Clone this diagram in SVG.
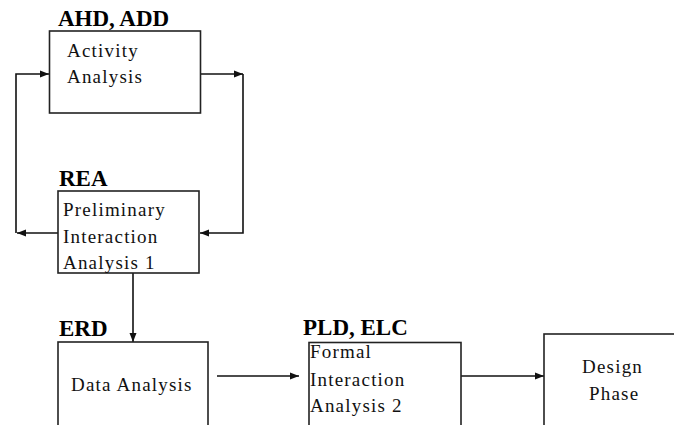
<svg xmlns="http://www.w3.org/2000/svg" width="674" height="425" viewBox="0 0 674 425">
<defs>
<style>
.box{fill:#fff;stroke:#222;stroke-width:1.6}
.title{font-family:'Liberation Serif','Times New Roman',serif;font-weight:bold;font-size:23px;fill:#000}
.lbl{font-family:'Liberation Serif','Times New Roman',serif;font-size:19px;letter-spacing:1.2px;fill:#111}
.con{fill:none;stroke:#111;stroke-width:1.6}
</style>
<marker id="arr" markerUnits="userSpaceOnUse" markerWidth="10" markerHeight="8" refX="9" refY="4" orient="auto">
<path d="M0,0.5 L9,4 L0,7.5 z" fill="#111"/>
</marker>
</defs>
<rect width="674" height="425" fill="#fff"/>
<g id="connectors">
<path class="con" d="M58,233 H17" marker-end="url(#arr)"/>
<path class="con" d="M16,233 V74 H49" marker-end="url(#arr)"/>
<path class="con" d="M201,74 H243" marker-end="url(#arr)"/>
<path class="con" d="M243,74 V233 H200" marker-end="url(#arr)"/>
<path class="con" d="M133,273 V342" marker-end="url(#arr)"/>
<path class="con" d="M217,376 H299" marker-end="url(#arr)"/>
<path class="con" d="M461,376 H544" marker-end="url(#arr)"/>
</g>
<g id="activity">
<text class="title" x="58" y="26">AHD, ADD</text>
<rect class="box" x="49.5" y="31" width="151" height="82"/>
<text class="lbl" x="67" y="57">Activity</text>
<text class="lbl" x="67" y="83">Analysis</text>
</g>
<g id="rea">
<text class="title" x="59" y="186">REA</text>
<rect class="box" x="58" y="191" width="141" height="82"/>
<text class="lbl" x="63" y="216">Preliminary</text>
<text class="lbl" x="63" y="243">Interaction</text>
<text class="lbl" x="63" y="269">Analysis 1</text>
</g>
<g id="erd">
<text class="title" x="59" y="336">ERD</text>
<rect class="box" x="58" y="342" width="150" height="110"/>
<text class="lbl" x="71" y="391">Data Analysis</text>
</g>
<g id="pld">
<text class="title" x="303" y="335">PLD, ELC</text>
<rect class="box" x="309" y="342.5" width="152" height="110"/>
<text class="lbl" x="310" y="358">Formal</text>
<text class="lbl" x="310" y="386">Interaction</text>
<text class="lbl" x="310" y="412">Analysis 2</text>
</g>
<g id="design">
<rect class="box" x="544" y="334" width="150" height="120"/>
<text class="lbl" x="582" y="373">Design</text>
<text class="lbl" x="589" y="400">Phase</text>
</g>
</svg>
